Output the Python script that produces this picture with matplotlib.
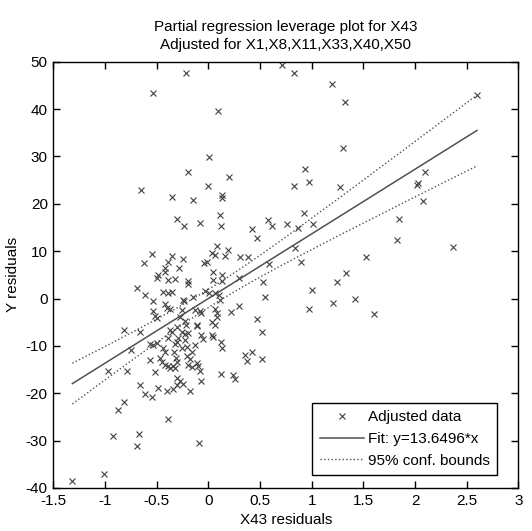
import numpy as np
import matplotlib
matplotlib.use("Agg")
import matplotlib.pyplot as plt
from matplotlib.lines import Line2D

# ---- data ----
x_resid = [
    -0.651, 0.0, -0.348, -0.151, 0.13, 0.132, -0.306, -0.232, -0.08, 0.116, 0.123, 0.42,
    -0.548, -0.62, -0.348, -0.242, -0.387, -0.419, -0.284, 0.087, 0.033, 0.065, 0.194, 0.161,
    -0.039, -0.016, 0.307, 0.387, -0.484, -0.5, -0.419, -0.387, -0.322, -0.194, -0.2, 0.042,
    0.042, 0.13, 0.136, 0.297, -0.693, -0.613, -0.532, -0.435, -0.387, -0.348, -0.242, -0.235,
    -0.151, -0.032, 0.007, 0.065, 0.104, 0.113, -0.419, -0.403, -0.371, -0.258, -0.129, -0.08,
    -0.071, 0.065, 0.081, 0.22, 0.3, -0.532, -0.516, -0.5, -0.274, -0.226, -0.216, -0.113,
    -0.105, 0.033, 0.065, 0.081, -0.813, -0.661, -0.371, -0.355, -0.306, -0.258, -0.226, -0.194,
    -0.071, -0.048, 0.033, 0.045, 0.123, 0.136, -0.387, -0.29, -0.306, -0.226, -0.748, -0.564,
    -0.532, -0.5, -0.435, -0.419, -0.322, -0.329, -0.258, -0.209, -0.129, -0.161, -0.564, -0.468,
    -0.452, -0.419, -0.387, -0.371, -0.339, -0.322, -0.316, -0.306, -0.209, -0.177, -0.113, -0.097,
    -0.194, -0.161, -0.79, -0.516, -0.306, -0.274, -0.071, -0.08, 0.123, 0.242, 0.258, -0.661,
    -0.613, -0.548, -0.484, -0.403, -0.339, -0.306, -0.242, -0.177, -0.813, 0.355, 0.371, 0.42,
    -0.968, -0.877, -0.393, -0.925, -0.667, -0.687, -1.01, -1.316, -0.087,
    -0.213, -0.534, -0.196, 0.712, 0.831, 1.198, 1.321, 0.094, 1.301, 0.003, 0.934, 0.2,
    0.976, 2.6, 2.1,
    0.831, 1.272, 0.928, 2.016, 2.03, 2.077,
    0.575, 0.614, 0.759, 0.872, 1.01, 0.468, 0.839, 0.894, 0.588, 0.527, 0.549, 0.468,
    0.517, 1.0, 0.978, 1.21, 1.243, 1.333, 0.517,
    1.849, 1.83, 2.366, 1.527, 1.42, 1.607,
]
y_resid = [
    22.9, 23.7, 21.5, 20.7, 21.9, 21.3, 16.8, 15.4, 16.0, 17.6, 15.4, 14.7,
    9.5, 7.6, 9.0, 8.4, 7.8, 6.4, 6.4, 11.1, 9.6, 9.2, 10.3, 8.9,
    7.5, 7.8, 8.7, 8.7, 5.0, 4.3, 5.6, 3.9, 4.1, 3.6, 3.0, 5.6,
    4.0, 4.9, 3.6, 4.3, 2.2, 0.8, -0.5, 1.3, 1.1, 1.3, -0.3, -0.6,
    0.4, 1.6, 1.1, 1.1, 0.8, -0.3, -1.2, -2.0, -2.2, -2.4, -2.4, -2.6,
    -3.1, -2.2, -3.1, -2.9, -1.5, -2.7, -3.6, -4.1, -3.8, -4.7, -5.5, -5.9,
    -5.6, -4.9, -5.5, -3.8, -6.7, -7.1, -6.6, -7.0, -6.1, -7.0, -7.5, -7.3,
    -7.8, -8.5, -7.8, -8.1, -9.1, -10.5, -8.4, -8.4, -9.1, -8.7, -10.8, -9.6,
    -9.8, -9.4, -10.5, -11.2, -9.6, -11.2, -10.5, -10.3, -9.8, -11.2, -12.9, -12.6,
    -13.3, -14.0, -14.3, -14.6, -14.3, -14.7, -12.6, -13.3, -12.2, -12.7, -13.6, -14.3,
    -14.0, -14.5, -15.4, -15.5, -16.8, -17.4, -17.5, -15.4, -16.0, -16.1, -16.9, -18.2,
    -20.2, -20.7, -18.8, -19.5, -19.1, -18.2, -18.1, -19.6, -21.9, -11.9, -13.1, -11.2,
    -15.2, -23.5, -25.4, -29.0, -28.6, -31.1, -37.0, -38.5, -30.5,
    47.7, 43.3, 26.8, 49.3, 47.6, 45.2, 41.4, 39.5, 31.7, 29.8, 27.3, 25.7,
    24.7, 43.0, 26.8,
    23.8, 23.5, 18.1, 23.9, 24.3, 20.6,
    16.6, 15.3, 15.8, 14.9, 15.8, 12.7, 10.6, 7.7, 7.3, 3.5, 0.4, -4.3,
    -7.0, 1.8, -2.2, -1.0, 3.4, 5.4, -12.8,
    16.8, 12.4, 10.8, 8.7, -0.1, -3.2,
]
fit_slope = 13.6496
x_ticks = [-1.5, -1.0, -0.5, 0.0, 0.5, 1.0, 1.5, 2.0, 2.5, 3.0]
x_tick_labels = ["-1.5", "-1", "-0.5", "0", "0.5", "1", "1.5", "2", "2.5", "3"]
y_ticks = [-40, -30, -20, -10, 0, 10, 20, 30, 40, 50]
y_tick_labels = ["-40", "-30", "-20", "-10", "0", "10", "20", "30", "40", "50"]
title_lines = ["Partial regression leverage plot for X43",
               "Adjusted for X1,X8,X11,X33,X40,X50"]
legend_labels = ["Adjusted data",
                 "Fit: y=" + ("%.4f" % fit_slope) + "*x",
                 "95% conf. bounds"]

# ---- computations ----
xd = np.array(x_resid)
yd = np.array(y_resid)
n = len(xd)
xs = np.linspace(xd.min(), xd.max(), 200)
yfit = fit_slope * xs
res = yd - fit_slope * xd
s = np.sqrt(np.sum(res ** 2) / (n - 1))
xm = xd.mean()
sxx = np.sum((xd - xm) ** 2)
tval = 1.972
hw = tval * s * np.sqrt(1.0 / n + (xs - xm) ** 2 / sxx)

# ---- plot ----
plt.rcParams['font.family'] = ['Liberation Sans', 'DejaVu Sans']
FS = 11
fig = plt.figure(figsize=(5.32, 5.31), dpi=100)
ax = fig.add_axes([0.1003, 0.0810, 0.8740, 0.8028])

col = '#404040'
ax.plot(xd, yd, linestyle='none', marker='x', ms=4.8, mew=0.8, color=col)
ax.plot(xs, yfit, '-', color='#505050', lw=1.1)
ax.plot(xs, yfit + hw, ':', color='#505050', lw=1.0)
ax.plot(xs, yfit - hw, ':', color='#505050', lw=1.0)

ax.set_xlim(-1.5, 3)
ax.set_ylim(-40, 50)
ax.set_xticks(x_ticks)
ax.set_xticklabels(x_tick_labels)
ax.set_yticks(y_ticks)
ax.set_yticklabels(y_tick_labels)
ax.tick_params(direction='in', top=True, right=True, length=5, width=1,
               labelsize=FS, pad=4, colors='black')
for sp in ax.spines.values():
    sp.set_linewidth(1.0)
    sp.set_color('black')

ax.set_xlabel("X43 residuals", fontsize=FS, labelpad=4)
ax.set_ylabel("Y residuals", fontsize=FS, labelpad=4)
ax.set_title("\n".join(title_lines), fontsize=FS, linespacing=1.35, pad=9)

handles = [
    Line2D([], [], linestyle='none', marker='x', ms=4.8, mew=0.8, color=col),
    Line2D([], [], linestyle='-', color='#505050', lw=1.1),
    Line2D([], [], linestyle=':', color='#505050', lw=1.0),
]
leg = ax.legend(handles, legend_labels, loc='lower right',
                bbox_to_anchor=(0.955, 0.03), borderaxespad=0,
                fancybox=False, framealpha=1, edgecolor='black',
                fontsize=FS, handlelength=2.9, handletextpad=0.25,
                labelspacing=0.5, borderpad=0.5)
leg.get_frame().set_linewidth(1.0)

fig.savefig("out.png", dpi=100)
